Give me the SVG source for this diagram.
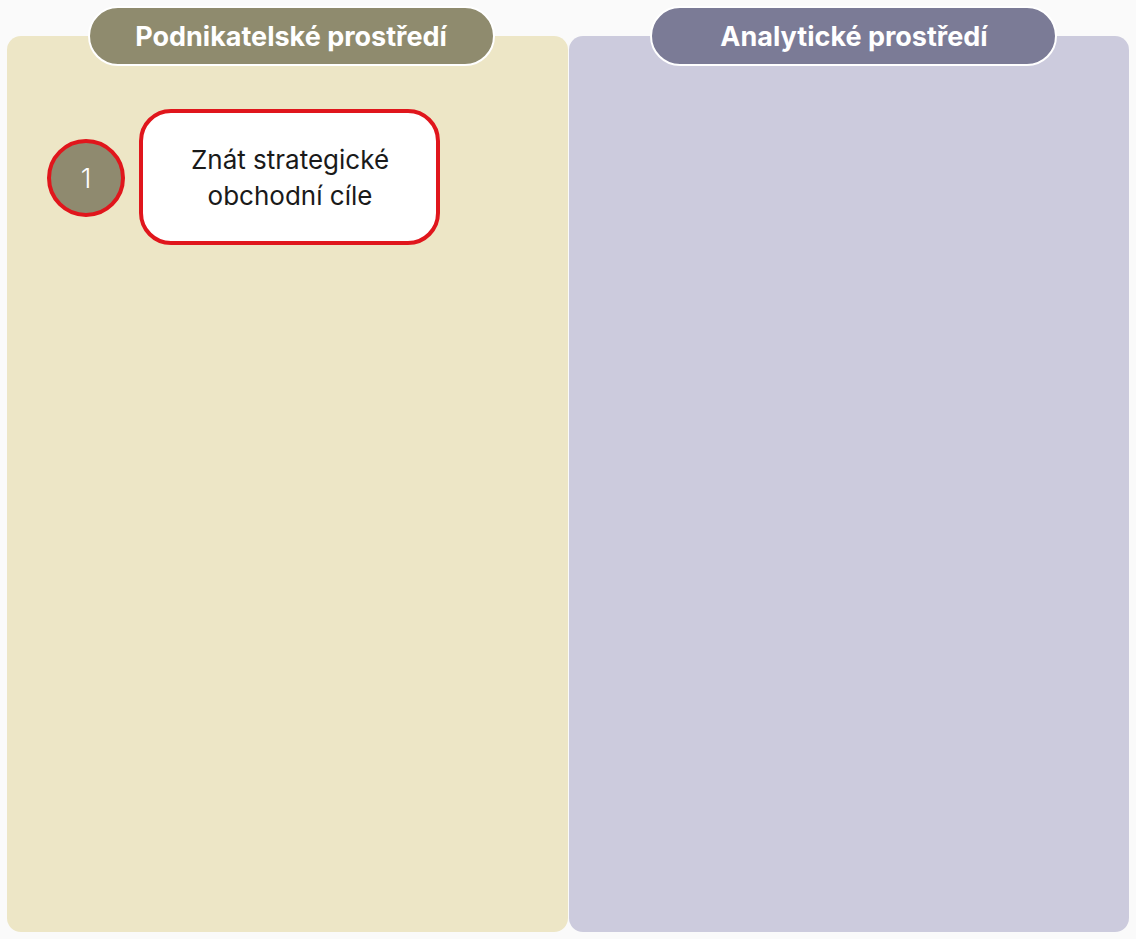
<svg xmlns="http://www.w3.org/2000/svg" width="1136" height="939" viewBox="0 0 1136 939">
<style>
.hdr{font-family:Inter,"Noto Sans","Liberation Sans",sans-serif;font-weight:700;font-size:27px;fill:#ffffff;text-anchor:middle}
.lbl{font-family:Inter,"Noto Sans","Liberation Sans",sans-serif;font-size:26px;fill:#1a1a1a;text-anchor:middle}
.num{font-family:Inter,"Noto Sans","Liberation Sans",sans-serif;font-size:27px;fill:#ffffff;text-anchor:middle;font-weight:300}
.pill{stroke:#ffffff;stroke-width:2}
.red{stroke:#e0161c;stroke-width:4}
</style>
<rect x="0" y="0" width="1136" height="939" fill="#fafafa"/>
<g id="panel-business">
<rect x="7" y="36" width="561" height="896" rx="14" fill="#ede6c6"/>
<rect class="pill" x="89" y="7" width="405" height="58" rx="29" fill="#8f8b6e"/>
<text class="hdr" x="291" y="46">Podnikatelské prostředí</text>
</g>
<g id="panel-analytic">
<rect x="569" y="36" width="560" height="896" rx="14" fill="#cccbdd"/>
<rect class="pill" x="651" y="7" width="405" height="58" rx="29" fill="#7b7b96"/>
<text class="hdr" x="854" y="46">Analytické prostředí</text>
</g>
<g id="step-1">
<circle class="red" cx="86" cy="178" r="37" fill="#8f8a6f"/>
<text class="num" x="86" y="188">1</text>
</g>
<g id="node-1">
<rect class="red" x="141" y="111" width="297" height="132" rx="30" fill="#ffffff"/>
<text class="lbl" x="290" y="169">Znát strategické</text>
<text class="lbl" x="290" y="205">obchodní cíle</text>
</g>
<g id="connectors"></g>
</svg>
